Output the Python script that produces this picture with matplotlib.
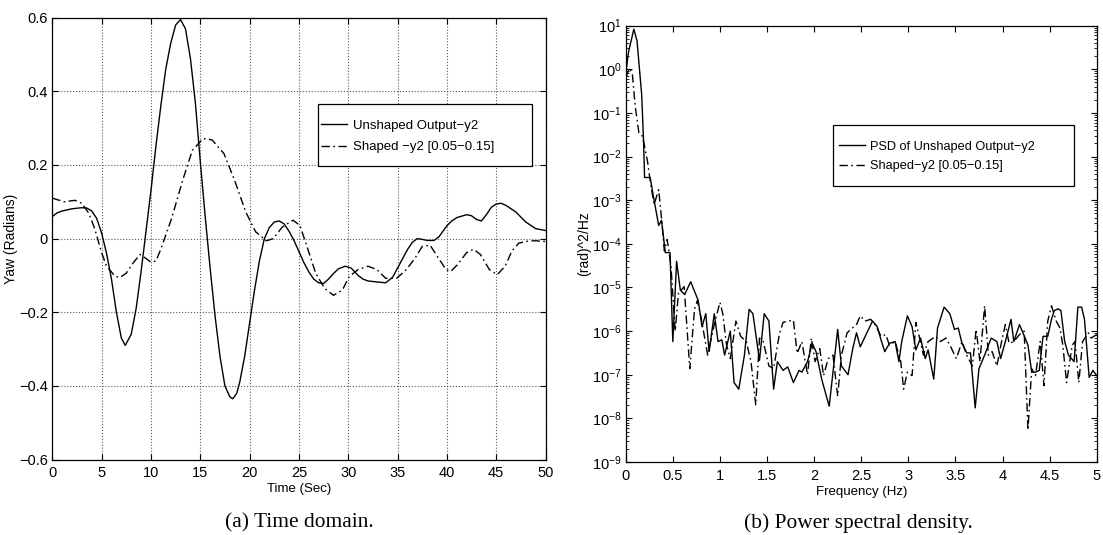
"""Time-domain and PSD comparison of unshaped vs shaped yaw output."""

import matplotlib
matplotlib.use("Agg")
import matplotlib.pyplot as plt
import numpy as np
from matplotlib.patches import Rectangle
from matplotlib.ticker import FixedLocator, LogLocator, NullFormatter

plt.rcParams["font.family"] = ["Liberation Sans", "DejaVu Sans"]
plt.rcParams["mathtext.fontset"] = "custom"
plt.rcParams["mathtext.rm"] = "Liberation Sans"
plt.rcParams["mathtext.it"] = "Liberation Sans"

# --- (a) time domain -------------------------------------------------------
t_unshaped = [0, 0.5, 1, 2, 3, 3.5, 4, 4.5, 5, 5.5, 6, 6.5, 7, 7.4, 8, 8.5, 9, 9.5,
              10, 10.5, 11, 11.5, 12, 12.5, 13, 13.5, 14, 14.5, 15, 15.5, 16, 16.5,
              17, 17.5, 18, 18.3, 18.7, 19, 19.5, 20, 20.5, 21, 21.5, 22, 22.5, 23,
              23.5, 24, 24.5, 25, 25.5, 26, 26.5, 27, 27.5, 28, 28.5, 29, 29.7, 30.3,
              31, 31.5, 32, 33, 33.8, 34.5, 35, 35.5, 36, 36.5, 37, 37.5, 38, 38.7,
              39.2, 40, 40.5, 41, 42, 42.5, 43, 43.5, 44, 44.5, 45, 45.5, 46, 47, 48,
              49, 50]
y_unshaped = [0.060, 0.070, 0.075, 0.081, 0.084, 0.083, 0.075, 0.055, 0.015, -0.04,
              -0.11, -0.20, -0.27, -0.29, -0.26, -0.19, -0.09, 0.02, 0.13, 0.25, 0.36,
              0.46, 0.53, 0.58, 0.595, 0.57, 0.49, 0.37, 0.21, 0.06, -0.08, -0.21,
              -0.32, -0.40, -0.43, -0.435, -0.42, -0.39, -0.32, -0.23, -0.14, -0.06,
              0.0, 0.03, 0.045, 0.048, 0.04, 0.02, -0.005, -0.035, -0.065, -0.09,
              -0.11, -0.12, -0.122, -0.11, -0.095, -0.082, -0.075, -0.08, -0.10,
              -0.11, -0.115, -0.118, -0.12, -0.105, -0.08, -0.055, -0.03, -0.01, 0.0,
              -0.002, -0.005, -0.005, 0.005, 0.035, 0.048, 0.057, 0.065, 0.062, 0.052,
              0.048, 0.065, 0.085, 0.094, 0.096, 0.09, 0.072, 0.045, 0.027, 0.022]

t_shaped = [0, 1.2, 2.3, 3, 3.7, 4.3, 5, 5.5, 6.4, 6.9, 7.5, 8.2, 8.9, 9.4, 10, 10.5,
            11, 12.1, 13.2, 14.2, 15.3, 16.2, 17.4, 18.5, 19.6, 20.6, 21.7, 22.4, 23.3,
            24.4, 25.1, 25.8, 26.7, 27.6, 28.5, 29.4, 30.1, 31, 32, 32.9, 33.8, 34.9,
            35.9, 36.8, 37.5, 38.3, 39, 39.9, 40.4, 41.1, 42, 42.7, 43.4, 44.3, 45.1,
            45.9, 46.6, 47.3, 48.4, 49.1, 50]
y_shaped = [0.11, 0.10, 0.104, 0.096, 0.069, 0.027, -0.038, -0.075, -0.103, -0.105,
            -0.094, -0.066, -0.043, -0.052, -0.064, -0.061, -0.029, 0.055, 0.157, 0.24,
            0.272, 0.268, 0.231, 0.157, 0.073, 0.019, -0.006, 0.0, 0.031, 0.05, 0.036,
            -0.02, -0.094, -0.135, -0.154, -0.14, -0.103, -0.084, -0.075, -0.084,
            -0.108, -0.108, -0.084, -0.052, -0.021, -0.018, -0.047, -0.084, -0.089,
            -0.07, -0.038, -0.029, -0.043, -0.084, -0.098, -0.075, -0.033, -0.012,
            -0.006, -0.006, -0.008]

# --- (b) power spectral density (log10 of PSD) -----------------------------
f_unshaped = [0.0, 0.03, 0.086, 0.12, 0.17, 0.19, 0.2, 0.26, 0.29, 0.35, 0.38, 0.42,
              0.47, 0.5, 0.54, 0.58, 0.625, 0.69, 0.77, 0.81, 0.85, 0.885, 0.94, 0.98,
              1.02, 1.05, 1.11, 1.15, 1.2, 1.26, 1.31, 1.35, 1.42, 1.47, 1.52, 1.57,
              1.61, 1.67, 1.72, 1.78, 1.84, 1.87, 1.93, 1.98, 2.02, 2.08, 2.16, 2.21,
              2.25, 2.29, 2.36, 2.41, 2.45, 2.49, 2.56, 2.62, 2.67, 2.71, 2.75, 2.8,
              2.86, 2.9, 2.93, 2.99, 3.04, 3.08, 3.13, 3.18, 3.21, 3.27, 3.31, 3.38,
              3.44, 3.49, 3.53, 3.57, 3.62, 3.66, 3.71, 3.75, 3.81, 3.88, 3.94, 3.98,
              4.03, 4.09, 4.12, 4.18, 4.24, 4.27, 4.31, 4.35, 4.39, 4.43, 4.48, 4.52,
              4.55, 4.59, 4.62, 4.66, 4.7, 4.76, 4.8, 4.84, 4.87, 4.92, 4.96, 5.0]
logp_unshaped = [-0.1, 0.4, 0.92, 0.65, -0.6, -1.7, -2.48, -2.48, -2.87, -3.58, -3.46,
                 -4.2, -4.2, -6.24, -4.4, -5.06, -5.16, -4.87, -5.3, -5.9, -5.6, -6.47,
                 -5.6, -6.24, -6.2, -6.55, -6.0, -7.18, -7.33, -6.55, -5.5, -5.6, -6.67,
                 -5.6, -5.77, -7.33, -6.7, -6.9, -6.82, -7.18, -6.9, -6.94, -6.7, -6.28,
                 -6.47, -7.1, -7.72, -6.75, -5.96, -6.8, -7.0, -6.4, -6.04, -6.36,
                 -6.04, -5.77, -5.9, -6.2, -6.47, -6.28, -6.24, -6.7, -6.24, -5.65,
                 -5.9, -6.43, -6.16, -6.63, -6.43, -7.1, -5.93, -5.45, -5.6, -5.96,
                 -5.93, -6.28, -6.5, -6.5, -7.76, -6.86, -6.55, -6.16, -6.24, -6.63,
                 -6.24, -5.73, -6.24, -5.85, -6.16, -6.32, -6.94, -6.94, -6.9, -6.12,
                 -6.12, -5.73, -5.53, -5.49, -5.53, -6.24, -6.55, -6.7, -5.45, -5.45,
                 -5.73, -7.06, -6.9, -7.02]

f_shaped = [0.0, 0.04, 0.07, 0.1, 0.14, 0.17, 0.19, 0.23, 0.26, 0.3, 0.35, 0.38, 0.41,
            0.44, 0.48, 0.525, 0.56, 0.62, 0.68, 0.73, 0.76, 0.8, 0.87, 0.94, 1.0,
            1.03, 1.07, 1.11, 1.17, 1.22, 1.28, 1.33, 1.38, 1.42, 1.46, 1.52, 1.57,
            1.63, 1.67, 1.72, 1.78, 1.82, 1.87, 1.93, 1.97, 2.01, 2.06, 2.1, 2.15, 2.2,
            2.25, 2.29, 2.35, 2.39, 2.45, 2.49, 2.54, 2.6, 2.65, 2.71, 2.76, 2.8, 2.86,
            2.92, 2.95, 2.99, 3.04, 3.08, 3.12, 3.16, 3.21, 3.29, 3.34, 3.4, 3.45,
            3.51, 3.57, 3.62, 3.68, 3.72, 3.76, 3.81, 3.85, 3.89, 3.94, 3.99, 4.03,
            4.07, 4.12, 4.18, 4.23, 4.27, 4.31, 4.35, 4.4, 4.44, 4.48, 4.52, 4.57,
            4.61, 4.64, 4.68, 4.74, 4.77, 4.81, 4.85, 4.91, 4.94, 5.0]
logp_shaped = [-0.2, 0.02, -0.1, -0.84, -1.46, -1.5, -1.66, -2.09, -2.56, -3.1, -2.76,
               -3.42, -4.16, -3.9, -4.5, -6.0, -5.13, -4.98, -6.86, -5.5, -5.3, -5.69,
               -6.55, -5.85, -5.34, -5.6, -6.32, -6.63, -5.77, -6.12, -6.24, -6.7,
               -7.69, -6.16, -6.24, -6.8, -6.86, -6.08, -5.8, -5.77, -5.75, -6.51,
               -6.24, -7.0, -6.16, -6.7, -6.4, -7.02, -6.63, -6.55, -7.49, -6.55,
               -6.04, -5.96, -5.85, -5.65, -5.77, -5.73, -5.85, -6.12, -6.08, -6.32,
               -6.24, -6.7, -7.33, -6.94, -7.02, -5.8, -6.16, -6.55, -6.24, -6.12,
               -6.24, -6.16, -6.36, -6.63, -6.24, -6.55, -6.8, -5.96, -6.7, -5.42,
               -6.55, -6.47, -6.8, -6.24, -5.85, -6.28, -6.24, -6.08, -6.0, -8.27,
               -6.86, -7.02, -6.24, -7.25, -5.77, -5.42, -5.77, -5.93, -6.32, -7.18,
               -6.32, -6.24, -7.18, -6.24, -6.04, -6.16, -6.08]

DASHDOT = (0, (6, 2.5, 1.2, 2.5))


def style_axes(ax):
    ax.tick_params(direction="in", top=True, right=True, labelsize=10.5,
                   length=4, width=0.8, pad=5)
    for spine in ax.spines.values():
        spine.set_linewidth(0.9)


def boxed_legend(ax, box, anchor, fontsize, spacing):
    """MATLAB-like legend: a framed box with the entries placed inside it."""
    x0, y0, x1, y1 = box
    ax.add_patch(Rectangle((x0, y0), x1 - x0, y1 - y0, transform=ax.transAxes,
                           facecolor="white", edgecolor="black", linewidth=0.9,
                           zorder=4))
    leg = ax.legend(loc="center left", bbox_to_anchor=anchor, frameon=False,
                    fontsize=fontsize, handlelength=2.0, handletextpad=0.45,
                    borderpad=0, borderaxespad=0, labelspacing=spacing)
    leg.set_zorder(5)
    return leg


fig = plt.figure(figsize=(11.03, 5.35), dpi=100)

# panel (a)
ax1 = fig.add_axes([0.0474, 0.1411, 0.4472, 0.8258])
ax1.plot(t_unshaped, y_unshaped, color="black", linewidth=1.0,
         label="Unshaped Output\u2212y2")
ax1.plot(t_shaped, y_shaped, color="black", linewidth=1.0, linestyle=DASHDOT,
         label="Shaped \u2212y2 [0.05\u22120.15]")
ax1.set_xlim(0, 50)
ax1.set_ylim(-0.6, 0.6)
ax1.set_xticks(np.arange(0, 51, 5))
ax1.set_yticks([-0.6, -0.4, -0.2, 0, 0.2, 0.4, 0.6])
ax1.set_yticklabels(["\u22120.6", "\u22120.4", "\u22120.2", "0", "0.2", "0.4", "0.6"])
ax1.grid(True, linestyle=":", color="0.35", linewidth=0.8)
ax1.set_xlabel("Time (Sec)", fontsize=9.5, labelpad=2)
ax1.set_ylabel("Yaw (Radians)", fontsize=10)
ax1.yaxis.set_label_coords(-0.0695, 0.5)
style_axes(ax1)
ax1.tick_params(axis="y", pad=3)
boxed_legend(ax1, (0.538, 0.664, 0.972, 0.805), (0.545, 0.7315), 9.5, 0.7)

# panel (b)
ax2 = fig.add_axes([0.5673, 0.1364, 0.4270, 0.8157])
ax2.semilogy(f_unshaped, 10.0 ** np.array(logp_unshaped), color="black",
             linewidth=1.0, label="PSD of Unshaped Output\u2212y2")
ax2.semilogy(f_shaped, 10.0 ** np.array(logp_shaped), color="black",
             linewidth=1.0, linestyle=DASHDOT, label="Shaped\u2212y2 [0.05\u22120.15]")
ax2.set_xlim(0, 5)
ax2.set_ylim(1e-9, 1e1)
ax2.set_xticks(np.arange(0, 5.01, 0.5))
ax2.set_xticklabels(["0", "0.5", "1", "1.5", "2", "2.5", "3", "3.5", "4", "4.5", "5"])
ax2.yaxis.set_major_locator(FixedLocator([10.0 ** k for k in range(-9, 2)]))
ax2.yaxis.set_minor_locator(LogLocator(base=10, subs=np.arange(2, 10), numticks=20))
ax2.yaxis.set_minor_formatter(NullFormatter())
ax2.set_xlabel("Frequency (Hz)", fontsize=9.5, labelpad=2)
ax2.set_ylabel("(rad)^2/Hz", fontsize=10)
ax2.yaxis.set_label_coords(-0.0745, 0.5)
style_axes(ax2)
ax2.tick_params(axis="y", pad=3)
ax2.tick_params(which="minor", direction="in", right=True, length=2, width=0.6)
boxed_legend(ax2, (0.440, 0.632, 0.951, 0.773), (0.453, 0.700), 9.2, 0.6)

# captions
fig.text(0.271, 0.0224, "(a) Time domain.", ha="center", va="center",
         fontsize=15.4, family=["Liberation Serif", "DejaVu Serif"])
fig.text(0.7786, 0.0224, "(b) Power spectral density.", ha="center", va="center",
         fontsize=15.4, family=["Liberation Serif", "DejaVu Serif"])

fig.savefig("out.png", dpi=100)
